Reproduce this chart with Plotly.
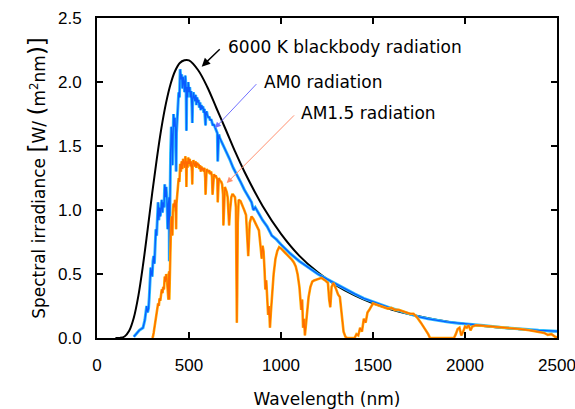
import plotly.graph_objects as go

# 6000 K blackbody
bb_wl = [100, 125, 150, 175, 200, 225, 250, 275, 300, 325, 350, 375, 400, 425, 450, 475, 500, 550, 600, 650,
         700, 750, 800, 900, 1000, 1100, 1200, 1300, 1400, 1500, 1600, 1700, 1800, 1900, 2000, 2100, 2200,
         2300, 2400, 2500]
bb_val = [0.0, 0.001, 0.012, 0.056, 0.158, 0.331, 0.569, 0.845, 1.131, 1.40, 1.640, 1.835, 1.985, 2.088,
          2.149, 2.170, 2.169, 2.092, 1.959, 1.793, 1.627, 1.458, 1.303, 1.032, 0.814, 0.642, 0.513, 0.411,
          0.333, 0.271, 0.223, 0.185, 0.154, 0.129, 0.110, 0.093, 0.080, 0.069, 0.059, 0.052]

# AM0 spectrum
am0_wl = [200, 210, 220, 230, 240, 250, 260, 270, 275,
          280, 284, 288, 292, 296, 300, 304, 308, 312, 316, 320, 324, 328, 332, 336, 340, 344, 348, 352, 356,
          360, 364, 368, 372, 376, 380, 384, 388, 392, 393, 395, 397, 400, 404, 408, 410, 412, 416, 420, 424,
          428, 430, 432, 436, 440, 444, 448, 452, 456, 460, 464, 468, 472, 476, 480, 484, 486, 488, 492, 496,
          500, 504, 508, 512, 516, 518, 520, 524, 528, 532, 536, 540, 544, 548, 552, 556, 560, 564, 568, 572,
          576, 580, 584, 588, 590, 592, 596, 600, 605, 610, 615, 620, 625, 630, 635, 640, 645, 650, 654, 656,
          658, 662, 668, 675, 680, 690, 700, 720, 740, 760, 780, 800, 820, 840, 850, 860,
          880, 900, 925, 950, 975, 1000, 1050, 1100, 1150, 1200, 1250, 1300, 1350, 1400, 1450, 1500, 1550,
          1600, 1650, 1700, 1750, 1800, 1850, 1900, 1950, 2000, 2100, 2200, 2300, 2400, 2500]
am0_val = [0.01, 0.03, 0.05, 0.06, 0.07, 0.08, 0.14, 0.25, 0.20,
           0.23, 0.32, 0.45, 0.55, 0.50, 0.48, 0.60, 0.64, 0.58, 0.75, 0.85, 0.80, 0.98, 1.06, 0.92, 1.02,
           0.95, 1.00, 1.08, 0.98, 1.06, 1.02, 1.20, 1.10, 1.18, 1.08, 0.85, 1.05, 1.10, 0.60, 1.00, 0.68,
           1.45, 1.65, 1.55, 1.35, 1.68, 1.75, 1.65, 1.72, 1.55, 1.30, 1.60, 1.75, 1.82, 1.92, 1.88, 2.10,
           2.02, 2.06, 1.95, 2.04, 2.00, 1.92, 2.05, 1.95, 1.62, 1.96, 1.88, 2.00, 1.92, 1.96, 1.88, 1.93,
           1.80, 1.68, 1.86, 1.92, 1.88, 1.85, 1.90, 1.82, 1.88, 1.84, 1.86, 1.80, 1.84, 1.78, 1.82, 1.79,
           1.81, 1.76, 1.79, 1.72, 1.66, 1.76, 1.77, 1.74, 1.72, 1.73, 1.70, 1.71, 1.68, 1.66, 1.67, 1.65,
           1.64, 1.62, 1.60, 1.38, 1.58, 1.59, 1.56, 1.54, 1.52, 1.49, 1.46, 1.40, 1.33, 1.28, 1.22, 1.16,
           1.11, 1.06, 1.00, 1.02, 0.97, 0.92, 0.87, 0.80, 0.77, 0.73, 0.66, 0.60, 0.55, 0.50, 0.46, 0.42,
           0.38, 0.345, 0.31, 0.283, 0.255, 0.232, 0.210, 0.185, 0.165, 0.150, 0.137, 0.126, 0.118, 0.112,
           0.098, 0.082, 0.070, 0.060, 0.053]

# AM1.5 spectrum
am15_wl = [300, 304, 308, 312, 316, 320, 324, 328, 332, 336, 340, 344, 348, 352, 356, 360, 364, 368, 372, 376,
           380, 384, 388, 390, 392, 393, 395, 397, 400, 403, 406, 408, 410, 412, 416, 420, 424, 428, 430, 432,
           436, 440, 444, 448, 452, 456, 460, 464, 468, 472, 476, 480, 484, 486, 488, 492, 496, 500, 504, 508,
           512, 516, 518, 520, 524, 528, 532, 536, 540, 544, 548, 552, 556, 560, 564, 568, 572, 576, 580, 584,
           588, 590, 592, 596, 600, 605, 610, 615, 620, 625, 628, 632, 636, 640, 645, 650, 654, 656, 658, 662,
           668, 675, 680, 685, 687, 690, 695, 700, 705, 710, 715, 718, 722, 726, 730, 735, 740, 745, 750, 755,
           758, 760, 762, 765, 770, 780, 790, 800, 810, 815, 822, 830,
           840, 850, 860, 870, 880, 890, 895, 900, 905, 910, 915, 920, 925, 930, 935, 940, 945, 950, 955, 960,
           970, 980, 990, 1000, 1020, 1040, 1050, 1060, 1070, 1080, 1090, 1100, 1110, 1115, 1120, 1125, 1130,
           1135, 1140, 1150, 1160, 1170, 1180, 1200, 1220, 1240, 1255, 1262, 1268, 1275, 1285, 1300, 1310,
           1320, 1330, 1340, 1350, 1360, 1400, 1410, 1420, 1430, 1440, 1450, 1460, 1470, 1480, 1490, 1500,
           1520, 1540, 1560, 1580, 1600, 1620, 1640, 1660, 1680, 1700, 1720, 1740, 1760, 1780, 1800, 1810,
           1940, 1950, 1960, 1970, 1980, 1990, 2000, 2010, 2020, 2030, 2040, 2060, 2100, 2150, 2200, 2250,
           2300, 2350, 2400, 2430, 2450, 2470, 2490, 2500]
am15_val = [0.00, 0.01, 0.04, 0.08, 0.12, 0.17, 0.20, 0.24, 0.27, 0.25, 0.31, 0.29, 0.33, 0.38, 0.35, 0.40,
            0.38, 0.48, 0.44, 0.50, 0.46, 0.36, 0.30, 0.50, 0.52, 0.30, 0.48, 0.35, 0.70, 0.92, 0.95, 0.88,
            0.80, 0.98, 1.05, 1.02, 1.08, 0.98, 0.85, 1.05, 1.12, 1.18, 1.25, 1.22, 1.36, 1.30, 1.38, 1.32,
            1.40, 1.37, 1.33, 1.42, 1.37, 1.18, 1.38, 1.33, 1.41, 1.36, 1.40, 1.34, 1.38, 1.30, 1.20, 1.35,
            1.39, 1.36, 1.34, 1.38, 1.33, 1.37, 1.35, 1.36, 1.32, 1.35, 1.30, 1.34, 1.31, 1.33, 1.30, 1.33,
            1.25, 1.12, 1.28, 1.32, 1.31, 1.30, 1.31, 1.28, 1.30, 1.26, 1.12, 1.27, 1.28, 1.26, 1.27, 1.25,
            1.24, 1.06, 1.23, 1.25, 1.23, 1.22, 1.20, 1.12, 0.88, 1.10, 1.18, 1.16, 1.14, 1.10, 1.00, 0.88,
            0.98, 1.08, 1.10, 1.12, 1.12, 1.11, 1.10, 1.02, 0.40, 0.12, 0.35, 0.90, 1.08, 1.07, 1.04, 1.00,
            0.96, 0.85, 0.64, 0.90,
            0.95, 0.93, 0.90, 0.86, 0.84, 0.70, 0.62, 0.72, 0.68, 0.55, 0.38, 0.45, 0.30, 0.18, 0.25, 0.08,
            0.20, 0.30, 0.42, 0.50, 0.62, 0.68, 0.71, 0.70, 0.67, 0.64, 0.63, 0.61, 0.59, 0.56, 0.50, 0.40,
            0.22, 0.30, 0.08, 0.15, 0.02, 0.10, 0.19, 0.32, 0.40, 0.44, 0.45, 0.46, 0.47, 0.45, 0.43, 0.30,
            0.24, 0.40, 0.43, 0.38, 0.34, 0.32, 0.20, 0.05, 0.01, 0.00, 0.00, 0.03, 0.02, 0.08, 0.05, 0.15,
            0.12, 0.20, 0.22, 0.25, 0.27, 0.26, 0.25, 0.24, 0.23, 0.235, 0.22, 0.22, 0.21, 0.20, 0.19, 0.19,
            0.16, 0.12, 0.08, 0.03, 0.00, 0.00, 0.03, 0.07, 0.08, 0.02, 0.05, 0.09, 0.08, 0.10, 0.06, 0.09,
            0.10, 0.095, 0.09, 0.085, 0.08, 0.07, 0.06, 0.05, 0.04, 0.025, 0.03, 0.01, 0.005]

x_ticks = [0, 500, 1000, 1500, 2000, 2500]
y_ticks = [0.0, 0.5, 1.0, 1.5, 2.0, 2.5]

FONT = "DejaVu Sans"
TICKFONT = "Liberation Sans"

fig = go.Figure()
fig.add_trace(go.Scatter(x=bb_wl, y=bb_val, mode="lines", line=dict(color="black", width=2, shape="spline"),
                         hoverinfo="skip"))
fig.add_trace(go.Scatter(x=am0_wl, y=am0_val, mode="lines", line=dict(color="#30c0ff", width=3), hoverinfo="skip"))
fig.add_trace(go.Scatter(x=am0_wl, y=am0_val, mode="lines", line=dict(color="#0a5cff", width=1.3), hoverinfo="skip"))
fig.add_trace(go.Scatter(x=am15_wl, y=am15_val, mode="lines", line=dict(color="#ffae00", width=2.6), hoverinfo="skip"))
fig.add_trace(go.Scatter(x=am15_wl, y=am15_val, mode="lines", line=dict(color="#ff6a00", width=1.2), hoverinfo="skip"))

# labels
labels = [
    dict(text="6000 K blackbody radiation", x=701, y=2.27),
    dict(text="AM0 radiation", x=896, y=2.0),
    dict(text="AM1.5 radiation", x=1100, y=1.755),
]
for lb in labels:
    fig.add_annotation(x=lb["x"], y=lb["y"], text=lb["text"], showarrow=False, xanchor="left", yanchor="middle",
                       font=dict(family=FONT, size=17, color="black"))

arrows = [
    dict(x=569, y=2.12, ax=678, ay=2.27, color="black", w=1.4),
    dict(x=641, y=1.64, ax=877, ay=2.0, color="#7070ff", w=1),
    dict(x=705, y=1.21, ax=1082, ay=1.755, color="#ff9070", w=1),
]
for a in arrows:
    fig.add_annotation(x=a["x"], y=a["y"], ax=a["ax"], ay=a["ay"], xref="x", yref="y", axref="x", ayref="y",
                       text=" ", showarrow=True, arrowhead=2, arrowsize=1.2, arrowwidth=a["w"],
                       arrowcolor=a["color"], font=dict(size=2))

axis_common = dict(showgrid=False, zeroline=False, showline=True, linecolor="black", linewidth=2,
                   mirror="ticks", ticks="inside", ticklen=6, tickwidth=2, tickcolor="black",
                   tickfont=dict(family=TICKFONT, size=17, color="black"), ticklabeloverflow="allow",
                   automargin=False)

BR = '<span style="font-size:23px">'
fig.update_xaxes(range=[0, 2500], tickvals=x_ticks, ticktext=[str(v) for v in x_ticks],
                 title=dict(text="Wavelength (nm)", font=dict(family=FONT, size=17, color="black"), standoff=20),
                 ticklabelstandoff=11, **axis_common)
fig.update_yaxes(range=[0, 2.5], tickvals=y_ticks, ticktext=[f"{v:.1f}" for v in y_ticks],
                 title=dict(text=f"Spectral irradiance {BR}[</span>W/ {BR}(</span>m<sup>2</sup>nm{BR})]</span>",
                            font=dict(family=FONT, size=17, color="black"), standoff=8),
                 ticklabelstandoff=10, **axis_common)

fig.update_layout(width=575, height=409, margin=dict(l=97, r=18, t=18, b=71),
                  plot_bgcolor="white", paper_bgcolor="white", showlegend=False)

fig.write_html("out.html")
